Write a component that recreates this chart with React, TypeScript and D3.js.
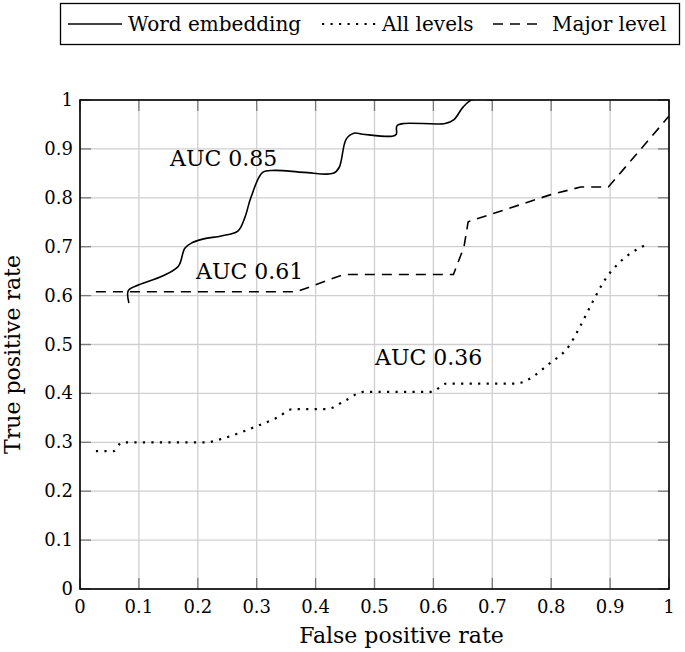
import React, { useEffect, useRef } from 'react';
import * as d3 from 'd3';

// ROC points [false positive rate, true positive rate]
const wordEmbedding: [number, number][] = [
  [0.083, 0.585], [0.082, 0.61], [0.1, 0.622], [0.14, 0.64], [0.167, 0.66],
  [0.178, 0.697], [0.19, 0.708], [0.21, 0.716], [0.24, 0.722], [0.268, 0.732],
  [0.28, 0.76], [0.29, 0.8], [0.31, 0.852], [0.33, 0.856], [0.38, 0.852],
  [0.43, 0.85], [0.44, 0.862], [0.452, 0.92], [0.465, 0.932], [0.48, 0.93],
  [0.53, 0.926], [0.537, 0.93], [0.538, 0.947], [0.55, 0.952], [0.62, 0.952],
  [0.635, 0.96], [0.65, 0.985], [0.665, 1.0], [0.7, 1.0],
];
const allLevels: [number, number][] = [
  [0.027, 0.282], [0.057, 0.282], [0.071, 0.3], [0.215, 0.3], [0.243, 0.308],
  [0.3, 0.333], [0.334, 0.35], [0.362, 0.368], [0.419, 0.368], [0.45, 0.385],
  [0.481, 0.403], [0.597, 0.403], [0.622, 0.42], [0.739, 0.42], [0.798, 0.462],
  [0.832, 0.5], [0.846, 0.53], [0.872, 0.591], [0.891, 0.632], [0.917, 0.669],
  [0.959, 0.703],
];
const majorLevel: [number, number][] = [
  [0.027, 0.608], [0.368, 0.608], [0.447, 0.643], [0.634, 0.643], [0.652, 0.7],
  [0.659, 0.751], [0.798, 0.806], [0.85, 0.822], [0.897, 0.822], [1.0, 0.967],
];

const ticks = [0, 0.1, 0.2, 0.3, 0.4, 0.5, 0.6, 0.7, 0.8, 0.9, 1];
const aucLabels = [
  { text: 'AUC 0.85', x: 0.153, y: 0.865 },
  { text: 'AUC 0.61', x: 0.197, y: 0.634 },
  { text: 'AUC 0.36', x: 0.501, y: 0.458 },
];
const legendItems = [
  { label: 'Word embedding', dash: null },
  { label: 'All levels', dash: '2.2 6.3' },
  { label: 'Major level', dash: '10 7' },
];

const font = "'DejaVu Serif', serif";

const App = () => {
  const svgRef = useRef<SVGSVGElement>(null);

  useEffect(() => {
    const margin = { top: 100, left: 80 };
    const width = 589;
    const height = 489;

    const root = d3.select(svgRef.current);
    root.selectAll('*').remove();
    root.attr('width', 685).attr('height', 652);

    const x = d3.scaleLinear().domain([0, 1]).range([0, width]);
    const y = d3.scaleLinear().domain([0, 1]).range([height, 0]);

    const svg = root.append('g').attr('transform', `translate(${margin.left},${margin.top})`);

    root.append('defs').append('clipPath').attr('id', 'plotclip')
      .append('rect').attr('x', margin.left).attr('y', margin.top)
      .attr('width', width).attr('height', height);

    // grid
    svg.selectAll('.vgrid').data(ticks).enter().append('line')
      .attr('x1', d => x(d)).attr('x2', d => x(d))
      .attr('y1', 0).attr('y2', height)
      .style('stroke', '#cfcfcf').style('stroke-width', 1.3);
    svg.selectAll('.hgrid').data(ticks).enter().append('line')
      .attr('y1', d => y(d)).attr('y2', d => y(d))
      .attr('x1', 0).attr('x2', width)
      .style('stroke', '#cfcfcf').style('stroke-width', 1.3);

    // inner tick marks on all sides
    const tl = 11;
    const tickG = svg.append('g').style('stroke', '#7a7a7a').style('stroke-width', 1.3);
    ticks.forEach(t => {
      tickG.append('line').attr('x1', x(t)).attr('x2', x(t)).attr('y1', height).attr('y2', height - tl);
      tickG.append('line').attr('x1', x(t)).attr('x2', x(t)).attr('y1', 0).attr('y2', tl);
      tickG.append('line').attr('y1', y(t)).attr('y2', y(t)).attr('x1', 0).attr('x2', tl);
      tickG.append('line').attr('y1', y(t)).attr('y2', y(t)).attr('x1', width).attr('x2', width - tl);
    });

    // tick labels
    svg.selectAll('.xlab').data(ticks).enter().append('text')
      .attr('x', d => x(d)).attr('y', height + 24)
      .attr('text-anchor', 'middle')
      .style('font-family', font).style('font-size', '18px')
      .text(d => d3.format('~g')(d));
    svg.selectAll('.ylab').data(ticks).enter().append('text')
      .attr('x', -7).attr('y', d => y(d) + 6)
      .attr('text-anchor', 'end')
      .style('font-family', font).style('font-size', '18px')
      .text(d => d3.format('~g')(d));

    // curves
    const line = d3.line<[number, number]>()
      .x(d => x(d[0])).y(d => y(d[1]));
    const curves = svg.append('g').attr('clip-path', 'url(#plotclip)')
      .attr('transform', `translate(${-margin.left},${-margin.top})`)
      .append('g').attr('transform', `translate(${margin.left},${margin.top})`);

    curves.append('path').datum(wordEmbedding)
      .attr('d', line.curve(d3.curveCatmullRom.alpha(0.5)))
      .style('fill', 'none').style('stroke', '#000').style('stroke-width', 1.6);
    curves.append('path').datum(allLevels)
      .attr('d', line.curve(d3.curveMonotoneX))
      .style('fill', 'none').style('stroke', '#000').style('stroke-width', 2.2)
      .style('stroke-dasharray', legendItems[1].dash);
    curves.append('path').datum(majorLevel)
      .attr('d', line.curve(d3.curveLinear))
      .style('fill', 'none').style('stroke', '#000').style('stroke-width', 1.6)
      .style('stroke-dasharray', legendItems[2].dash);

    // frame
    svg.append('rect').attr('width', width).attr('height', height)
      .style('fill', 'none').style('stroke', '#000').style('stroke-width', 1.6);

    // AUC labels
    svg.selectAll('.auc').data(aucLabels).enter().append('text')
      .attr('x', d => x(d.x)).attr('y', d => y(d.y))
      .style('font-family', font).style('font-size', '22px')
      .text(d => d.text);

    // axis titles
    svg.append('text')
      .attr('x', width / 2 + 27).attr('y', height + 54)
      .attr('text-anchor', 'middle')
      .style('font-family', font).style('font-size', '22px')
      .text('False positive rate');
    svg.append('text')
      .attr('transform', `translate(${-60},${height / 2 + 10}) rotate(-90)`)
      .attr('text-anchor', 'middle')
      .style('font-family', font).style('font-size', '22px')
      .text('True positive rate');

    // legend
    const lg = root.append('g');
    lg.append('rect').attr('x', 60.5).attr('y', 3.5).attr('width', 619).attr('height', 41)
      .style('fill', '#fff').style('stroke', '#000').style('stroke-width', 1.3);
    const sampleX = [68, 322, 493];
    const sampleW = [54, 55, 47];
    const textX = [128, 382, 552];
    legendItems.forEach((item, i) => {
      lg.append('line')
        .attr('x1', sampleX[i]).attr('x2', sampleX[i] + sampleW[i])
        .attr('y1', 24).attr('y2', 24)
        .style('stroke', '#000').style('stroke-width', i === 1 ? 2.2 : 1.6)
        .style('stroke-dasharray', item.dash);
      lg.append('text')
        .attr('x', textX[i]).attr('y', 31)
        .style('font-family', font).style('font-size', '20px')
        .text(item.label);
    });
  }, []);

  return <svg ref={svgRef} style={{ display: 'block', position: 'absolute', left: 0, top: 0 }}></svg>;
};

export default App;
